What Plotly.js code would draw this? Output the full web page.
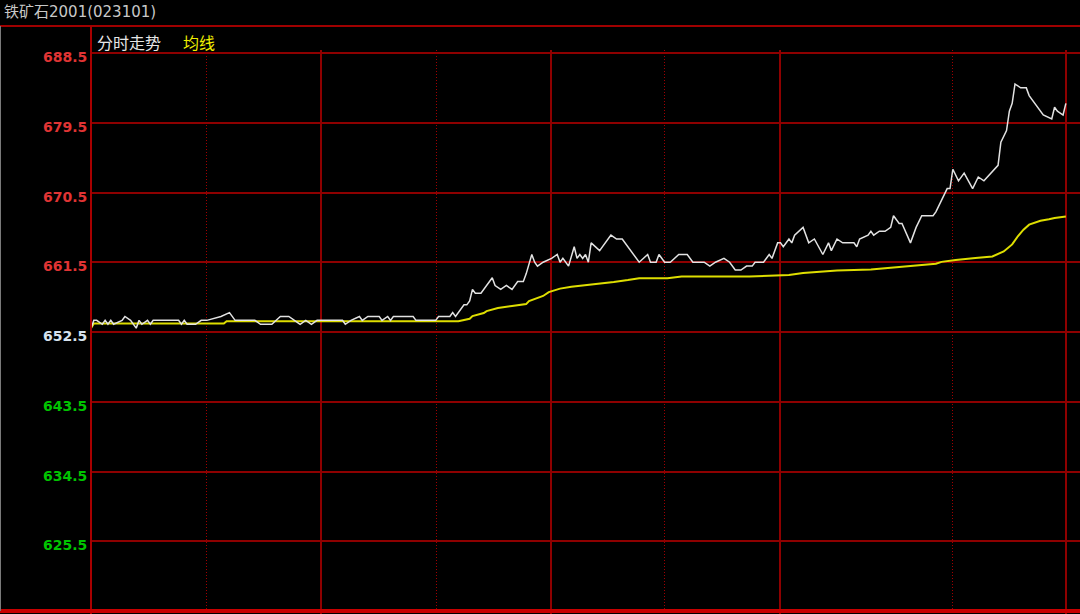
<!DOCTYPE html>
<html>
<head>
<meta charset="utf-8">
<script src="https://cdn.plot.ly/plotly-3.0.1.min.js"></script>
<style>
  html, body { margin: 0; padding: 0; background: #000; }
  #chart { width: 1080px; height: 614px; }
</style>
</head>
<body>
<div id="chart"></div>
<script>
// ---- data (minute index within the trading day, price) ----
const chartTitle = '铁矿石2001(023101)';
const priceName = '分时走势';
const avgName = '均线';
const baseValue = 652.5;

const priceMinutes = [0,1,2,4,5,6,7,8,11,12,14,15,16,17,18,20,21,22,31,32,33,34,37,39,41,46,49,51,58,60,64,67,70,72,74,76,78,80,89,90,92,95,96,98,102,103,105,106,107,114,115,122,123,127,128,129,131,132,133,134,135,136,138,140,142,143,145,147,149,151,153,154,156,157,158,160,163,165,166,167,169,171,172,173,174,175,176,177,180,184,186,188,189,191,193,194,197,198,200,201,203,205,208,211,213,214,217,219,221,224,226,228,230,232,234,235,238,240,241,243,244,245,247,248,249,252,254,256,259,261,262,264,266,270,271,272,275,276,277,279,281,283,284,286,287,290,292,294,298,299,301,303,304,305,307,309,312,314,316,320,321,322,324,325,326,327,329,330,331,332,333,335,337,340,341,342,344,345];
const prices = [653.0,654.0,654.0,653.5,654.0,653.5,654.0,653.5,654.0,654.5,654.0,653.5,653.0,654.0,653.5,654.0,653.5,654.0,654.0,653.5,654.0,653.5,653.5,654.0,654.0,654.5,655.0,654.0,654.0,653.5,653.5,654.5,654.5,654.0,653.5,654.0,653.5,654.0,654.0,653.5,654.0,654.5,654.0,654.5,654.5,654.0,654.5,654.0,654.5,654.5,654.0,654.0,654.5,654.5,655.0,654.5,655.5,656.0,656.0,656.5,658.0,657.5,657.5,658.5,659.5,658.5,658.0,658.5,658.0,659.0,659.0,660.0,662.5,661.5,661.0,661.5,662.0,662.5,661.5,662.0,661.0,663.5,662.0,662.5,662.0,662.5,661.5,664.0,663.0,665.0,664.5,664.5,664.0,663.0,662.0,661.5,662.5,661.5,661.5,662.5,661.5,661.5,662.5,662.5,661.5,661.5,661.5,661.0,661.5,662.0,661.5,660.5,660.5,661.0,661.0,661.5,661.5,662.5,662.0,664.0,664.0,663.5,664.5,664.0,665.0,666.0,664.0,664.5,662.5,664.0,663.0,664.5,664.0,664.0,663.5,664.5,665.0,665.5,665.0,665.5,665.5,666.0,667.5,666.5,666.5,664.0,666.0,667.5,667.5,668.0,669.5,671.0,671.0,673.5,672.0,673.0,671.0,672.5,672.0,673.5,674.0,677.0,678.5,681.0,682.0,684.5,684.0,684.0,684.0,683.0,682.5,681.5,680.5,680.0,681.5,681.0,680.5,682.0];

const avgMinutes = [0,1,47,48,130,134,135,139,140,144,149,154,155,160,162,166,170,178,185,190,194,204,209,233,241,247,252,264,276,283,287,295,299,301,306,313,319,323,326,328,330,332,334,336,339,341,345];
const avgPrices = [653.0,653.6,653.6,653.9,653.9,654.2,654.55,654.95,655.2,655.6,655.85,656.1,656.5,657.15,657.65,658.1,658.35,658.65,658.95,659.2,659.45,659.45,659.65,659.65,659.8,659.85,660.1,660.45,660.55,660.75,660.95,661.1,661.3,661.55,661.8,662.05,662.25,662.9,663.8,664.85,665.7,666.35,666.65,666.85,667.05,667.2,667.4];

const priceTicks = [625.5, 634.5, 643.5, 652.5, 661.5, 670.5, 679.5, 688.5];
const tickLabels = ['625.5', '634.5', '643.5', '652.5', '661.5', '670.5', '679.5', '688.5'];

// ---- styling ----
const upColor = '#e03434';
const downColor = '#00c400';
const flatColor = '#d6e2ee';
const gridRed = '#8e0000';

const W = 1080, H = 614;
const mL = 91, mR = 0, mT = 50, mB = 0;
const plotW = W - mL - mR, plotH = H - mT - mB;
const pxX = px => (px - mL) / plotW;          // page px -> paper x
const pxY = py => (H - mB - py) / plotH;      // page px -> paper y

const traces = [
  {
    x: avgMinutes, y: avgPrices, name: avgName, type: 'scatter', mode: 'lines',
    line: { color: '#dede00', width: 2 }, hoverinfo: 'skip'
  },
  {
    x: priceMinutes, y: prices, name: priceName, type: 'scatter', mode: 'lines',
    line: { color: '#e2e2e2', width: 1.5 }, hoverinfo: 'skip'
  }
];

// price labels on the left, coloured against the base (previous settlement) value
const tickAnnotations = priceTicks.map((v, i) => ({
  text: tickLabels[i], xref: 'paper', yref: 'y', x: pxX(89), y: v,
  xanchor: 'right', yanchor: 'middle', yshift: -4, showarrow: false,
  font: { family: 'DejaVu Sans, sans-serif', size: 14, weight: 'bold',
          color: v > baseValue ? upColor : (v < baseValue ? downColor : flatColor) }
}));

const layout = {
  width: W, height: H,
  paper_bgcolor: '#000', plot_bgcolor: '#000',
  margin: { l: mL, r: mR, t: mT, b: mB, pad: 0 },
  showlegend: false,
  title: {
    text: chartTitle, x: 4 / W, xanchor: 'left', y: 1 - 12 / H, yanchor: 'middle',
    font: { family: 'DejaVu Sans, Noto Sans CJK SC, sans-serif', size: 15, color: '#c8c8c8' }
  },
  xaxis: {
    range: [0, 350],
    showticklabels: false, ticks: '',
    tickmode: 'array', tickvals: [81.4, 162.8, 243.8, 345],
    showgrid: true, gridcolor: gridRed, gridwidth: 2,
    minor: {
      tickmode: 'array', tickvals: [40.7, 122.1, 203.1, 304.7],
      showgrid: true, gridcolor: '#a00000', gridwidth: 1, griddash: '1px,2px', ticks: ''
    },
    zeroline: false, showline: false, fixedrange: true
  },
  yaxis: {
    range: [616.5 - 3 * 0.12903, 688.5 + 3 * 0.12903],
    tickmode: 'array', tickvals: priceTicks, ticktext: tickLabels,
    showticklabels: false, ticks: '',
    showgrid: true, gridcolor: gridRed, gridwidth: 2,
    zeroline: false, showline: false, fixedrange: true
  },
  shapes: [
    // title bar separator
    { type: 'line', xref: 'paper', yref: 'paper', x0: pxX(0), x1: 1, y0: pxY(26), y1: pxY(26),
      line: { color: '#a00000', width: 2 } },
    // left axis line
    { type: 'line', xref: 'paper', yref: 'paper', x0: 0, x1: 0, y0: pxY(614), y1: pxY(26),
      line: { color: '#a80000', width: 2 } },
    // bottom thick line
    { type: 'line', xref: 'paper', yref: 'paper', x0: pxX(0), x1: 1, y0: pxY(611), y1: pxY(611),
      line: { color: '#c80000', width: 4 } },
    // left window edge
    { type: 'line', xref: 'paper', yref: 'paper', x0: pxX(0.5), x1: pxX(0.5), y0: pxY(611), y1: pxY(26),
      line: { color: '#7a7a7a', width: 1 } }
  ],
  annotations: tickAnnotations.concat([
    { text: priceName, xref: 'paper', yref: 'paper', x: pxX(95), y: pxY(42), xanchor: 'left', yanchor: 'middle',
      showarrow: false, font: { family: 'Noto Sans CJK SC, sans-serif', size: 16, color: '#e6e6e6' } },
    { text: avgName, xref: 'paper', yref: 'paper', x: pxX(181), y: pxY(42), xanchor: 'left', yanchor: 'middle',
      showarrow: false, font: { family: 'Noto Sans CJK SC, sans-serif', size: 16, color: '#f0f000' } }
  ])
};

Plotly.newPlot('chart', traces, layout, { displayModeBar: false, staticPlot: true });
</script>
</body>
</html>
